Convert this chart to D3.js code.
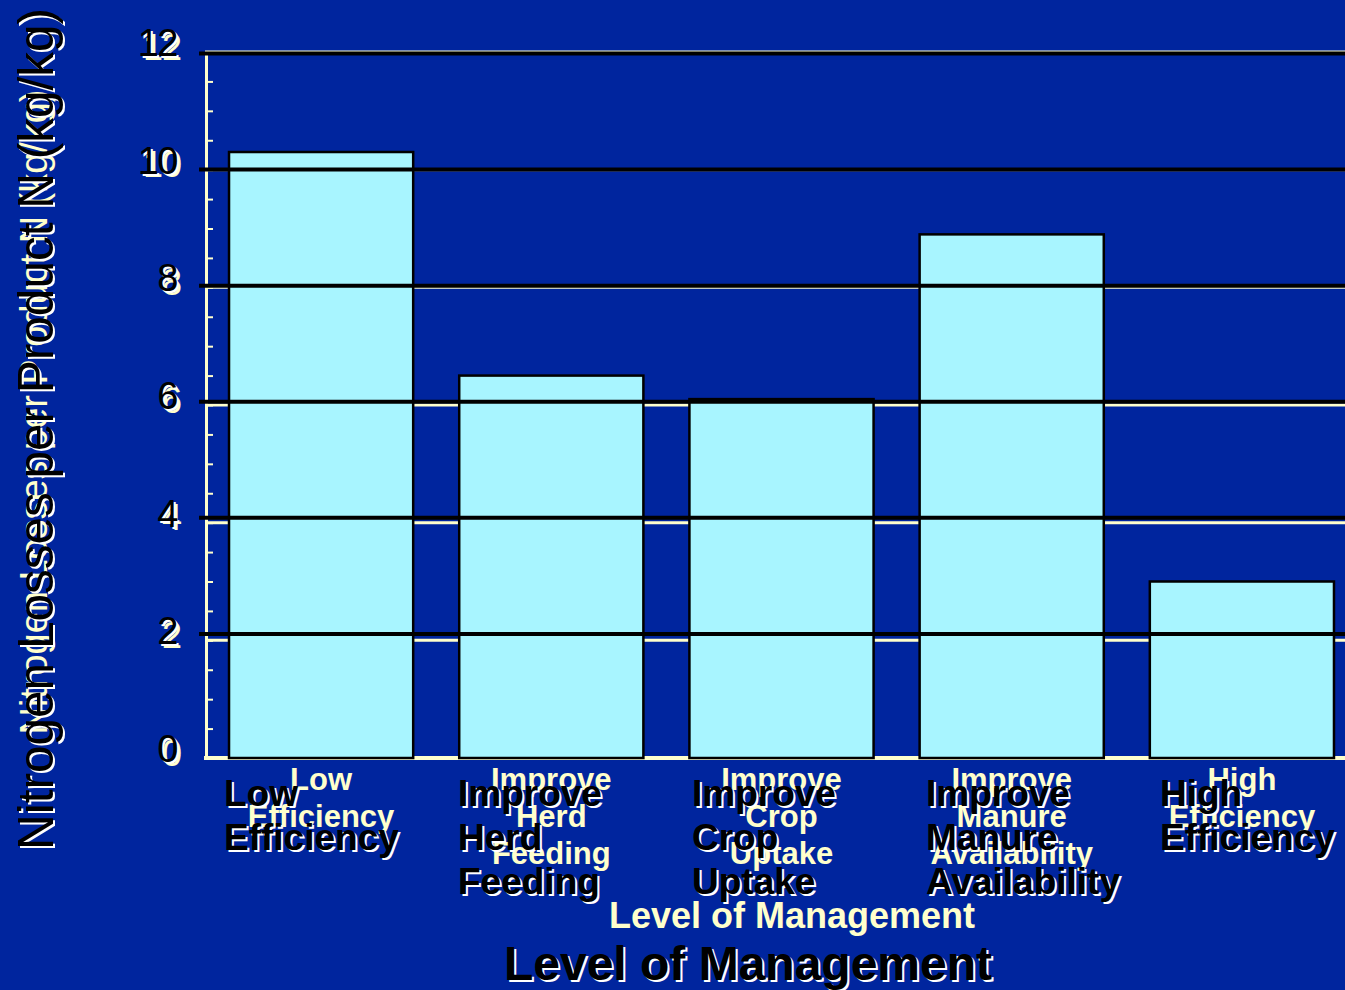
<!DOCTYPE html>
<html>
<head>
<meta charset="utf-8">
<script src="https://cdn.jsdelivr.net/npm/d3@7"></script>
<style>
  html, body { margin: 0; padding: 0; background: #00259E; }
  svg { display: block; font-family: "Liberation Sans", Arial, sans-serif; }
</style>
</head>
<body>
<svg id="chart" width="1345" height="990"></svg>
<script>
// Nitrogen losses per unit of product N for each level of management
const categories = [
  "Low Efficiency",
  "Improve Herd Feeding",
  "Improve Crop Uptake",
  "Improve Manure Availability",
  "High Efficiency"
];
const losses = [10.3, 6.5, 6.1, 8.9, 3.0];
const yTicks = [0, 2, 4, 6, 8, 10, 12];
const gridTicks = [2, 4, 6, 8, 10, 12];
const yTitle = "Nitrogen Losses per Product N (kg/kg)";
const xTitle = "Level of Management";

const W = 1345, H = 990;
const BG = "#00259E", CREAM = "#FFFFCC", BAR = "#A8F5FF", INK = "#000000", SHADOW = "#FFFFFF";

const svg = d3.select("#chart");
svg.append("rect").attr("width", W).attr("height", H).attr("fill", BG);

// two overlaid layers: a cream one and a black, shadowed one
const yCream = d3.scaleLinear().domain([0, 12]).range([758, 52]);
const yBlack = d3.scaleLinear().domain([0, 12]).range([750, 53.5]);
const x = d3.scaleBand().domain(categories).range([206, 1357]).paddingInner(0.2).paddingOuter(0.1);
const xBlack = d3.scaleBand().domain(categories).range([224, 224 + 5 * 234]);

// cream grid behind the bars
svg.append("g").selectAll("line").data(gridTicks).join("line")
  .attr("x1", 205).attr("x2", W)
  .attr("y1", d => yCream(d)).attr("y2", d => yCream(d))
  .attr("stroke", CREAM).attr("stroke-width", 3);

// cream y axis with half-unit ticks
const yAxis = d3.axisRight(yCream)
  .tickValues(d3.range(0, 12.01, 0.5))
  .tickSize(7).tickSizeOuter(0).tickFormat("");
const ag = svg.append("g").attr("transform", "translate(206,0)").call(yAxis);
ag.select(".domain").attr("stroke", CREAM).attr("stroke-width", 3);
ag.selectAll(".tick line").attr("stroke", CREAM).attr("stroke-width", 2);

// cream baseline
svg.append("line")
  .attr("x1", 204).attr("x2", W)
  .attr("y1", yCream(0)).attr("y2", yCream(0))
  .attr("stroke", CREAM).attr("stroke-width", 4);

// bars
svg.append("g").selectAll("rect").data(categories).join("rect")
  .attr("x", d => x(d))
  .attr("y", (d, i) => yCream(losses[i]))
  .attr("width", x.bandwidth())
  .attr("height", (d, i) => yCream(0) - yCream(losses[i]))
  .attr("fill", BAR)
  .attr("stroke", INK).attr("stroke-width", 2.5);

// black grid drawn over the bars
svg.append("g").selectAll("line").data(gridTicks).join("line")
  .attr("x1", 199).attr("x2", W)
  .attr("y1", d => yBlack(d)).attr("y2", d => yBlack(d))
  .attr("stroke", INK).attr("stroke-width", 4);

// text helper: black text carries a white drop shadow
function shadowText(g, build) {
  build(g.append("g").attr("transform", "translate(2,2)"), SHADOW);
  build(g.append("g"), INK);
}

const cream = svg.append("g").attr("fill", CREAM);
const black = svg.append("g");

// ---- cream layer text ----
cream.selectAll("text.tick").data(yTicks).join("text")
  .attr("class", "tick")
  .attr("x", 181).attr("y", d => yCream(d) - 5)
  .attr("text-anchor", "end").attr("dominant-baseline", "central")
  .attr("font-size", 36).attr("letter-spacing", -1)
  .text(d => d);

cream.append("text")
  .attr("transform", "translate(47,412) rotate(-90)")
  .attr("text-anchor", "middle").attr("font-size", 38)
  .attr("textLength", 645).attr("lengthAdjust", "spacingAndGlyphs")
  .text(yTitle);

categories.forEach(c => {
  const t = cream.append("text")
    .attr("text-anchor", "middle").attr("font-size", 31).attr("font-weight", "bold");
  c.split(" ").forEach((w, j) => {
    t.append("tspan").attr("x", x(c) + x.bandwidth() / 2).attr("y", 790 + j * 37).text(w);
  });
});

cream.append("text")
  .attr("x", 792).attr("y", 928)
  .attr("text-anchor", "middle").attr("font-size", 36).attr("font-weight", "bold")
  .text(xTitle);

// ---- black layer text ----
shadowText(black, (g, fill) => {
  g.attr("fill", fill);
  g.selectAll("text.tick").data(yTicks).join("text")
    .attr("class", "tick")
    .attr("x", 177).attr("y", d => yCream(d) - 9)
    .attr("text-anchor", "end").attr("dominant-baseline", "central")
    .attr("font-size", 38).attr("letter-spacing", -1.5)
    .text(d => d);

  g.append("text")
    .attr("transform", "translate(53,429) rotate(-90)")
    .attr("text-anchor", "middle").attr("font-size", 50)
    .attr("textLength", 842).attr("lengthAdjust", "spacingAndGlyphs")
    .text(yTitle);

  categories.forEach(c => {
    const t = g.append("text")
      .attr("text-anchor", "start").attr("font-size", 37).attr("font-weight", "bold");
    c.split(" ").forEach((w, j) => {
      t.append("tspan").attr("x", xBlack(c)).attr("y", 806 + j * 44).text(w);
    });
  });

  g.append("text")
    .attr("x", 748).attr("y", 980)
    .attr("text-anchor", "middle").attr("font-size", 48).attr("font-weight", "bold")
    .text(xTitle);
});
</script>
</body>
</html>
